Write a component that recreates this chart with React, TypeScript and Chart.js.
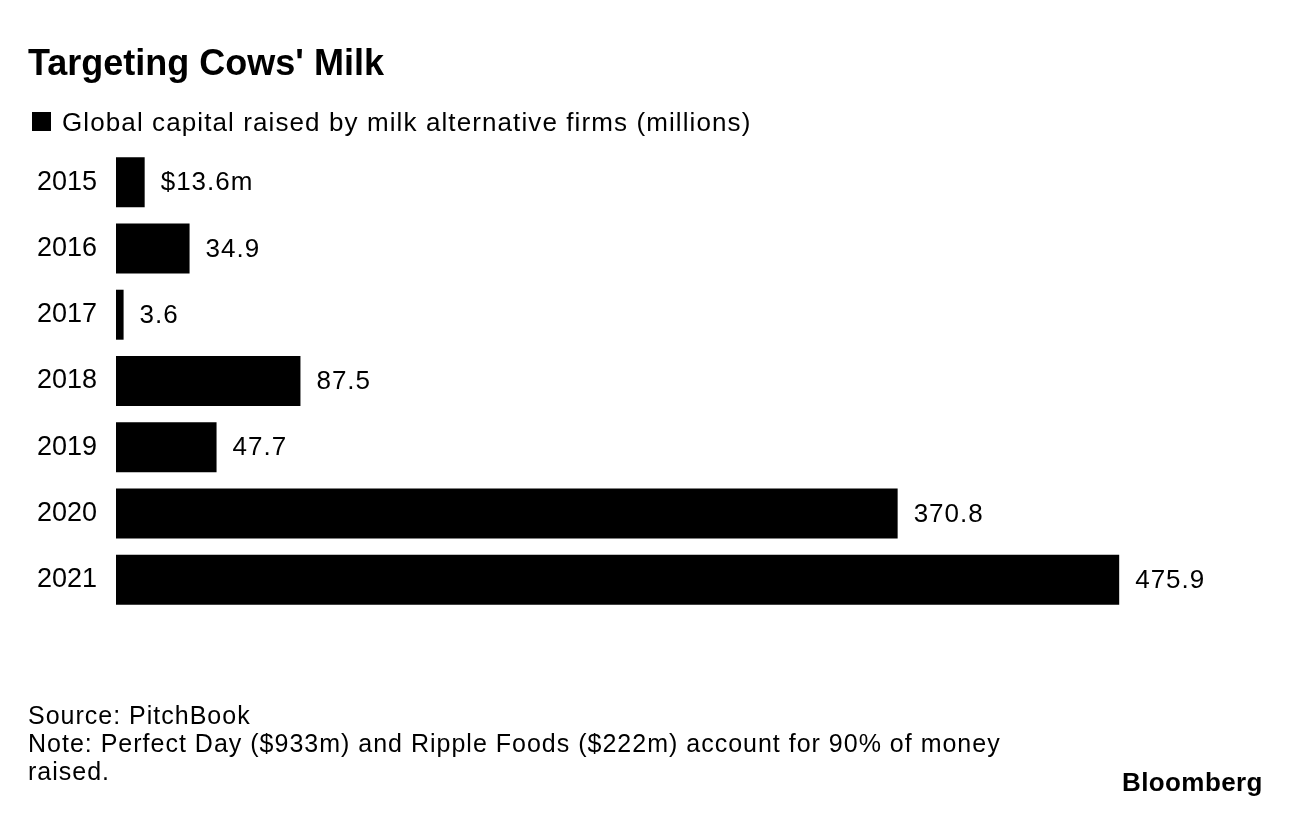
import React, { useEffect, useRef } from "react";
import { Chart, registerables } from "chart.js";

Chart.register(...registerables);

const years = ["2015", "2016", "2017", "2018", "2019", "2020", "2021"];
const capitalRaised = [13.6, 34.9, 3.6, 87.5, 47.7, 370.8, 475.9];
const valueLabels = ["$13.6m", "34.9", "3.6", "87.5", "47.7", "370.8", "475.9"];

const FONT = "'Liberation Sans', Arial, Helvetica, sans-serif";

const valueLabelPlugin = {
  id: "valueLabels",
  afterDatasetsDraw(chart: any) {
    const ctx = chart.ctx;
    const meta = chart.getDatasetMeta(0);
    ctx.save();
    ctx.font = `26px ${FONT}`;
    try {
      (ctx as any).letterSpacing = "1px";
    } catch (e) {}
    ctx.fillStyle = "#000";
    ctx.textAlign = "left";
    ctx.textBaseline = "middle";
    meta.data.forEach((bar: any, i: number) => {
      ctx.fillText(valueLabels[i], bar.x + 16, bar.y + 1);
    });
    ctx.restore();
  },
};

export default function App() {
  const canvasRef = useRef<HTMLCanvasElement | null>(null);

  useEffect(() => {
    if (!canvasRef.current) return;
    const chart = new Chart(canvasRef.current, {
      type: "bar",
      data: {
        labels: years,
        datasets: [
          {
            label: "Global capital raised by milk alternative firms (millions)",
            data: capitalRaised,
            backgroundColor: "#000",
            borderWidth: 0,
            barPercentage: 0.754,
            categoryPercentage: 1,
          },
        ],
      },
      options: {
        indexAxis: "y",
        animation: false,
        responsive: true,
        maintainAspectRatio: false,
        layout: { padding: { left: 0, right: 119, top: 149, bottom: 201 } },
        scales: {
          x: { display: false, min: 0, max: 500 },
          y: {
            grid: { display: false, drawTicks: false },
            border: { display: false },
            ticks: { color: "#000", font: { family: FONT, size: 27 }, padding: 19 },
            afterFit: (s: any) => {
              s.width = 116;
            },
          },
        },
        plugins: { legend: { display: false }, tooltip: { enabled: false } },
      } as any,
      plugins: [valueLabelPlugin],
    });
    return () => chart.destroy();
  }, []);

  const abs = (o: any): React.CSSProperties => ({ position: "absolute", whiteSpace: "nowrap", color: "#000", fontFamily: FONT, ...o });

  return (
    <div style={{ position: "absolute", left: 0, top: 0, width: 1289, height: 814, overflow: "hidden", background: "#fff" }}>
      <div style={{ position: "absolute", left: 0, top: 0, width: 1289, height: 814 }}>
        <canvas ref={canvasRef} />
      </div>
      <div style={abs({ left: 28, top: 41.5, fontSize: 36, fontWeight: 700 })}>Targeting Cows' Milk</div>
      <div style={abs({ left: 32, top: 112, width: 19, height: 19, background: "#000" })} />
      <div style={abs({ left: 62, top: 106.5, fontSize: 26, letterSpacing: 1.1 })}>Global capital raised by milk alternative firms (millions)</div>
      <div style={abs({ left: 28, top: 701, fontSize: 25, lineHeight: "28px", letterSpacing: 1 })}>
        Source: PitchBook
        <br />
        Note: Perfect Day ($933m) and Ripple Foods ($222m) account for 90% of money
        <br />
        raised.
      </div>
      <div style={abs({ left: 1122, top: 767, fontSize: 26, fontWeight: 700, letterSpacing: 0.4 })}>Bloomberg</div>
    </div>
  );
}
